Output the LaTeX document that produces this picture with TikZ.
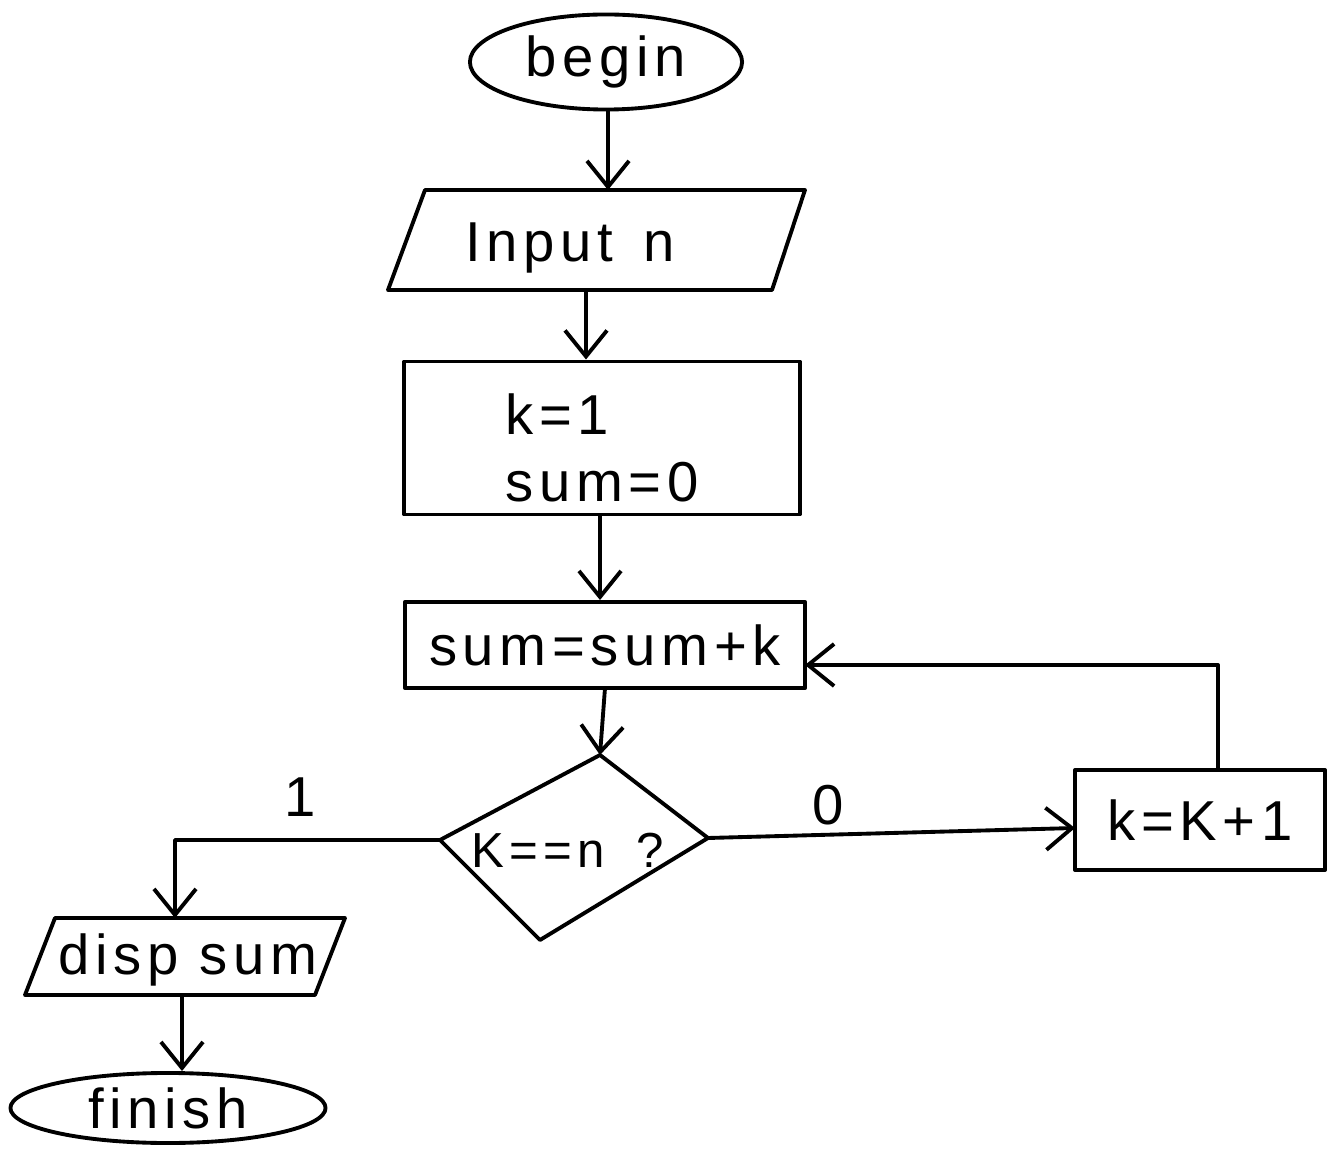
\documentclass[tikz,border=0pt]{standalone}
\usepackage{fontspec}
\setmainfont[LetterSpace=10]{Liberation Sans}
\usetikzlibrary{shapes.geometric,arrows.meta}
\begin{document}
\begin{tikzpicture}[x=0.01cm,y=-0.01cm,
  every node/.style={font=\fontsize{16}{19}\selectfont},
  line/.style={line width=1.1pt, line join=round, line cap=round},
  conn/.style={line, -{Straight Barb[length=2.6mm,width=4.2mm,line width=1.1pt]}},
  term/.style={line, draw, ellipse, inner sep=0pt},
  procbox/.style={line, draw, rectangle, inner sep=0pt},
  lbl/.style={inner sep=0pt}]
\useasboundingbox (0,0) rectangle (1333,1155);

% begin
\node[term, minimum width=2.72cm, minimum height=0.95cm] (begin) at (606,62) {begin};

% input n parallelogram
\draw[line] (425,190) -- (805,190) -- (772,290) -- (388,290) -- cycle;
\coordinate (inT) at (608,190);
\coordinate (inB) at (586,290);
\node[lbl] (input) at (570,248) {Input\, n};

% init box
\node[procbox, minimum width=3.95cm, minimum height=1.53cm] (init) at (602,438) {};
\node[lbl, anchor=west, align=left] (inittext) at (505,448) {k=1\\sum=0};

% sum box
\node[procbox, minimum width=4.0cm, minimum height=0.86cm] (sum) at (605,645) {sum=sum+k};
\coordinate (sumB) at (605,688);
\coordinate (fbin) at (805,665);

% decision diamond
\coordinate (dT) at (600,755);
\coordinate (dR) at (708,838);
\coordinate (dB) at (540,940);
\coordinate (dL) at (440,840);
\draw[line] (dT) -- (dR) -- (dB) -- (dL) -- cycle;
\node[lbl, font=\fontsize{14}{17}\selectfont] (cond) at (568,850) {K==n\; ?};

% k=k+1 box
\node[procbox, minimum width=2.5cm, minimum height=1.0cm] (inc) at (1200,820) {k=K+1};
\coordinate (incT) at (1218,770);
\coordinate (incL) at (1075,828);

% disp sum parallelogram
\draw[line] (55,918) -- (345,918) -- (315,995) -- (25,995) -- cycle;
\coordinate (dispT) at (175,918);
\coordinate (dispB) at (182,995);
\node[lbl] (disp) at (188,960) {disp sum};

% finish
\node[term, minimum width=3.15cm, minimum height=0.7cm] (finish) at (168,1108) {finish};

% labels
\node[lbl] (one) at (300,797) {1};
\node[lbl] (zero) at (828,805) {0};

% connectors
\draw[conn] (begin.south -| inT) -- (inT);
\draw[conn] (inB) -- (init.north -| inB);
\draw[conn] (init.south -| dT) -- (sum.north -| dT);
\draw[conn] (sumB) -- (dT);
\draw[conn] (dR) -- (incL);
\draw[conn] (dL) -| (dispT);
\draw[conn] (incT) |- (fbin);
\draw[conn] (dispB) -- (finish.north -| dispB);
\end{tikzpicture}
\end{document}
